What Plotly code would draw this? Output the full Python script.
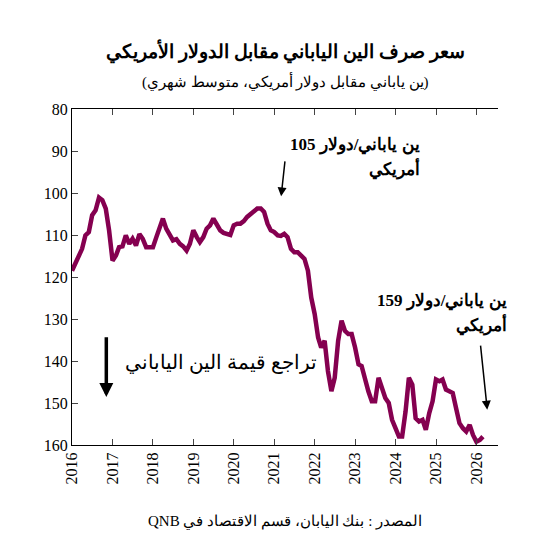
import pandas as pd
import plotly.graph_objects as go

values = [118.5,116.9,114.9,113.3,110.1,109.3,105.3,104.1,101.1,101.7,103.7,108.9,116.1,
114.9,112.9,112.7,110.1,112.1,110.9,112.5,109.8,110.9,112.9,112.9,112.9,110.5,108.1,106.1,
108.5,109.7,111.3,111.0,112.1,112.7,113.7,112.1,108.9,110.5,111.7,110.5,108.5,107.7,106.1,
107.5,108.9,109.5,109.8,110.0,107.7,107.3,107.3,106.7,105.7,105.1,104.5,103.7,103.7,104.5,
107.3,108.9,109.3,110.1,110.2,109.7,110.5,113.3,114.1,114.1,114.9,115.7,118.5,124.9,128.8,
134.4,136.8,135.2,142.4,147.2,144.0,135.2,130.4,132.8,133.6,133.6,136.8,140.8,141.2,144.8,
147.2,149.6,149.6,144.0,146.4,148.8,150.0,154.0,156.0,158.0,158.0,152.0,144.0,145.6,153.6,
154.4,154.0,156.4,152.4,149.6,144.4,144.8,144.4,146.8,147.2,147.6,151.2,154.8,156.0,156.8,
155.2,157.6,159.2,158.8,158.0]
dates = pd.date_range("2016-01-01", periods=len(values), freq="MS")
tick_years = list(range(2016, 2027))

color = "#850050"
font = "Liberation Serif, Times New Roman, serif"
RLE, PDF = "\u202b", "\u202c"

fig = go.Figure(go.Scatter(x=dates, y=values, mode="lines",
                           line=dict(color=color, width=4.5)))

fig.update_layout(
    width=536, height=550, paper_bgcolor="white", plot_bgcolor="white",
    margin=dict(l=64, r=46, t=101, b=113), showlegend=False,
    font=dict(family=font, color="black", size=16),
    xaxis=dict(range=["2016-01-01", "2026-07-15"], automargin=False,
               tickvals=[f"{y}-01-01" for y in tick_years],
               ticktext=[str(y) for y in tick_years], tickangle=-90,
               showgrid=False, showline=True, linecolor="black", mirror="allticks",
               ticks="inside", ticklen=6, zeroline=False),
    yaxis=dict(range=[160, 80], tickvals=list(range(80, 161, 10)), automargin=False,
               showgrid=False, showline=True, linecolor="black",
               ticks="inside", ticklen=6, zeroline=False),
)

def d(yr):
    y = int(yr); m = (yr - y) * 12
    return pd.Timestamp(year=y, month=1, day=1) + pd.DateOffset(days=int(m * 30.4))

anns = [
    dict(x=d(2024.66), y=88.5, text="<b>105 ين ياباني/دولار</b>", xanchor="right", showarrow=False, font=dict(size=17)),
    dict(x=d(2024.66), y=94.1, text="<b>أمريكي</b>", xanchor="right", showarrow=False, font=dict(size=17)),
    dict(xref="paper", x=1.026, y=125.6, text="<b>159 ين ياباني/دولار</b>", xanchor="right", showarrow=False, font=dict(size=17)),
    dict(xref="paper", x=1.026, y=131.2, text="<b>أمريكي</b>", xanchor="right", showarrow=False, font=dict(size=17)),
    dict(x=d(2019.69), y=140.4, text="تراجع قيمة الين الياباني", showarrow=False, font=dict(size=20)),
]
for (x0, y0, x1, y1, w) in [(2021.27, 92.1, 2021.17, 100.8, 1.5), (2026.1, 136, 2026.27, 151.6, 1.5),
                             (2016.85, 134, 2016.85, 148.6, 3.5)]:
    anns.append(dict(x=d(x1), y=y1, ax=d(x0), ay=y0, axref="x", ayref="y", xref="x", yref="y",
                     text="", showarrow=True, arrowhead=2, arrowsize=1.2 if w < 2 else 0.8,
                     arrowwidth=w, arrowcolor="black"))
anns += [
    dict(xref="paper", yref="paper", x=0.5, y=1, yshift=72, text="<b>سعر صرف الين الياباني مقابل الدولار الأمريكي</b>",
         showarrow=False, font=dict(size=19)),
    dict(xref="paper", yref="paper", x=0.5, y=1, yshift=39, text="(ين ياباني مقابل دولار أمريكي، متوسط شهري)",
         showarrow=False, font=dict(size=15)),
    dict(xref="paper", yref="paper", x=0.5, y=0, yshift=-87,
         text=RLE + "المصدر : بنك اليابان، قسم الاقتصاد في QNB" + PDF,
         showarrow=False, font=dict(size=15)),
]
fig.update_layout(annotations=anns)
fig.write_html("out.html")
